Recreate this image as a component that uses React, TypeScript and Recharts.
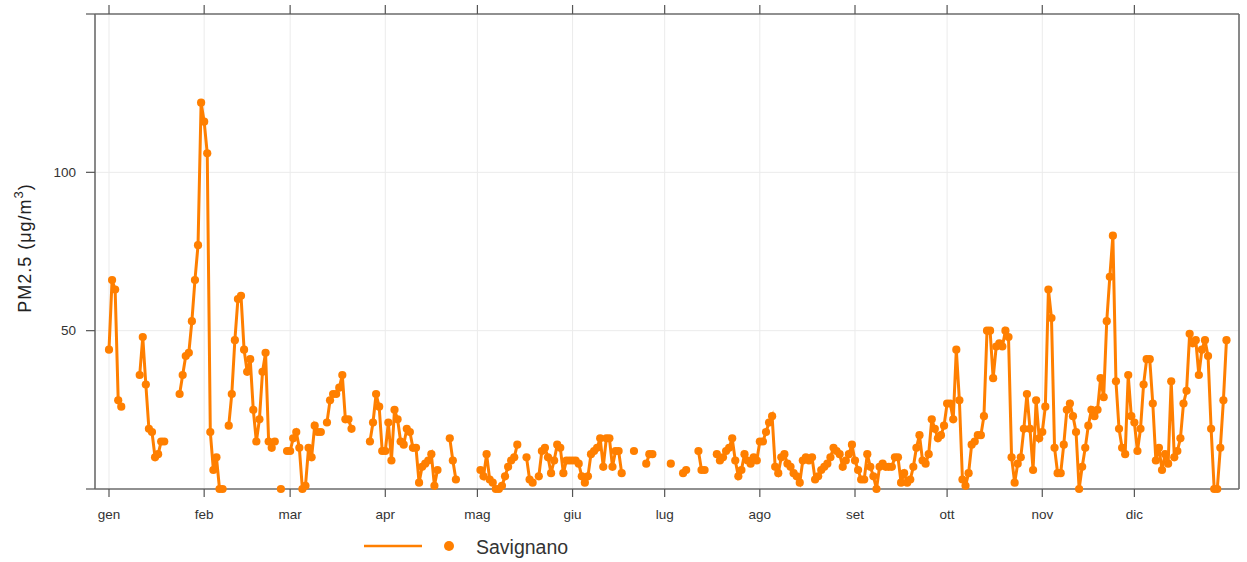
import React from "react";
import { LineChart, Line, XAxis, YAxis, CartesianGrid } from "recharts";

const ORANGE = "#ff7f00";
const FONT = "'Liberation Sans', Arial, sans-serif";

const months = ["gen", "feb", "mar", "apr", "mag", "giu", "lug", "ago", "set", "ott", "nov", "dic"];
const monthStarts = [0, 31, 59, 90, 120, 151, 181, 212, 243, 273, 304, 334];
const yTicks = [0, 50, 100, 150];

// daily PM2.5 (µg/m3), one array per month, null = missing day
const gen = [44, 66, 63, 28, 26, null, null, null, null, null, 36, 48, 33, 19, 18, 10, 11, 15, 15, null, null, null, null, 30, 36, 42, 43, 53, 66, 77, 122];
const feb = [116, 106, 18, 6, 10, 0, 0, null, 20, 30, 47, 60, 61, 44, 37, 41, 25, 15, 22, 37, 43, 15, 13, 15, null, 0, null, 12];
const mar = [12, 16, 18, 13, 0, 1, 13, 10, 20, 18, 18, null, 21, 28, 30, 30, 32, 36, 22, 22, 19, null, null, null, null, null, 15, 21, 30, 26, 12];
const apr = [12, 21, 9, 25, 22, 15, 14, 19, 18, 13, 13, 2, 7, 8, 9, 11, 1, 6, null, null, null, 16, 9, 3, null, null, null, null, null, null];
const mag = [null, 6, 4, 11, 3, 2, 0, 0, 1, 4, 7, 9, 10, 14, null, null, 10, 3, 2, null, 4, 12, 13, 10, 5, 9, 14, 13, 5, 9, 9];
const giu = [9, 9, 8, 4, 2, 4, 11, 12, 13, 16, 7, 16, 16, 7, 12, 12, 5, null, null, null, 12, null, null, null, 8, 11, 11, null, null, null];
const lug = [null, null, 8, null, null, null, 5, 6, null, null, null, 12, 6, 6, null, null, null, 11, 9, 10, 12, 13, 16, 9, 4, 6, 11, 9, 8, 10, 9];
const ago = [15, 15, 18, 21, 23, 7, 5, 10, 11, 8, 7, 5, 4, 2, 9, 10, 9, 10, 3, 4, 6, 7, 8, 10, 13, 12, 11, 7, 9, 11, 14];
const set = [9, 6, 3, 3, 11, 7, 4, 0, 7, 8, 7, 7, 7, 10, 10, 2, 5, 2, 3, 7, 13, 17, 9, 8, 11, 22, 19, 16, 17, 20];
const ott = [27, 27, 22, 44, 28, 3, 1, 5, 14, 15, 17, 17, 23, 50, 50, 35, 45, 46, 45, 50, 48, 10, 2, 8, 10, 19, 30, 19, 6, 28, 16];
const nov = [18, 26, 63, 54, 13, 5, 5, 14, 25, 27, 23, 18, 0, 7, 13, 20, 25, 23, 25, 35, 29, 53, 67, 80, 34, 19, 13, 11, 36, 23];
const dic = [21, 12, 19, 33, 41, 41, 27, 9, 13, 6, 11, 8, 34, 10, 12, 16, 27, 31, 49, 46, 47, 36, 44, 47, 42, 19, 0, 0, 13, 28, 47];

const daily = [...gen, ...feb, ...mar, ...apr, ...mag, ...giu, ...lug, ...ago, ...set, ...ott, ...nov, ...dic];
const data = daily.map((v, i) => ({ day: i, pm25: v }));

const axisLine = { stroke: "#6e6e6e", strokeWidth: 1.6 };
const tickLine = { stroke: "#555", strokeWidth: 1.2 };
const tickStyle = { fontSize: 13.5, fill: "#333", fontFamily: FONT };

function YLabel() {
  return (
    <text
      transform="translate(31,248) rotate(-90)"
      textAnchor="middle"
      fontSize={18}
      letterSpacing={1}
      fill="#222"
      fontFamily={FONT}
    >
      PM2.5 (μg/m
      <tspan dy={-8} fontSize={13}>3</tspan>
      <tspan dy={8}>)</tspan>
    </text>
  );
}

export default function App() {
  return (
    <div style={{ position: "absolute", left: 0, top: 0, width: 1247, height: 562, background: "#fff" }}>
      <LineChart
        width={1247}
        height={562}
        data={data}
        margin={{ top: 5, right: 0, bottom: 43, left: 35 }}
        style={{ fontFamily: FONT }}
      >
        <CartesianGrid xAxisId="x" yAxisId="y" stroke="#ebebeb" strokeWidth={1} />
        <XAxis
          xAxisId="x"
          dataKey="day"
          type="number"
          domain={[-4.56, 368.08]}
          ticks={monthStarts}
          tickFormatter={(v) => months[monthStarts.indexOf(v)]}
          height={30}
          tickSize={8}
          tickMargin={12}
          axisLine={axisLine}
          tickLine={tickLine}
          tick={tickStyle}
        />
        <XAxis
          xAxisId="top"
          orientation="top"
          dataKey="day"
          type="number"
          domain={[-4.56, 368.08]}
          ticks={monthStarts}
          tickFormatter={() => ""}
          height={9}
          tickSize={9}
          axisLine={axisLine}
          tickLine={tickLine}
          tick={tickStyle}
        />
        <YAxis
          yAxisId="y"
          type="number"
          domain={[0, 150]}
          ticks={yTicks}
          tickFormatter={(v) => (v === 50 || v === 100 ? String(v) : "")}
          width={60}
          tickSize={9}
          tickMargin={10}
          axisLine={axisLine}
          tickLine={tickLine}
          tick={tickStyle}
          label={<YLabel />}
        />
        <YAxis
          yAxisId="right"
          orientation="right"
          type="number"
          domain={[0, 150]}
          ticks={yTicks}
          tickFormatter={() => ""}
          width={8}
          tickSize={8}
          axisLine={axisLine}
          tickLine={tickLine}
          tick={tickStyle}
        />
        <Line
          xAxisId="x"
          yAxisId="y"
          type="linear"
          dataKey="pm25"
          stroke={ORANGE}
          strokeWidth={3}
          dot={{ r: 4.1, fill: ORANGE, stroke: "none" }}
          activeDot={false}
          isAnimationActive={false}
        />
      </LineChart>
      <svg width={1247} height={40} style={{ position: "absolute", left: 0, top: 526 }}>
        <line x1={364} x2={422} y1={20} y2={20} stroke={ORANGE} strokeWidth={2.5} />
        <circle cx={449} cy={20} r={5} fill={ORANGE} />
        <text x={476} y={28} fontSize={19.5} fill="#333" fontFamily={FONT}>
          Savignano
        </text>
      </svg>
    </div>
  );
}
